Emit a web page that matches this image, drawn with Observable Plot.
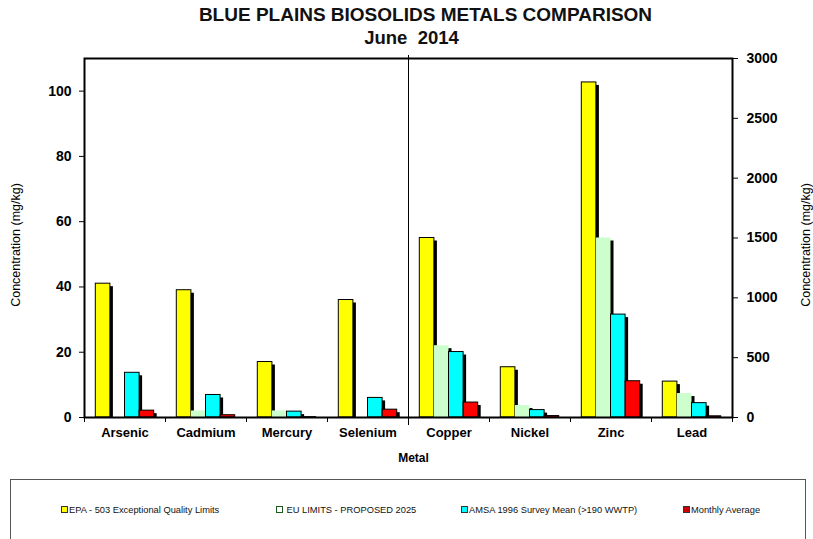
<!DOCTYPE html>
<html>
<head>
<meta charset="utf-8">
<script src="https://cdn.jsdelivr.net/npm/d3@7"></script>
<script src="https://cdn.jsdelivr.net/npm/@observablehq/plot@0.6"></script>
<style>
  body { margin: 0; background: #fff; font-family: "Liberation Sans", Arial, sans-serif; }
  #wrap { position: relative; width: 813px; height: 539px; overflow: hidden; background: #fff; }
  #chart { position: absolute; left: 0; top: 0; }
  .title { position: absolute; left: 0; width: 813px; font-weight: bold; white-space: pre; text-align: center; color: #111; }
  #legend { position: absolute; left: 10px; top: 479px; width: 796px; height: 80px; border: 1px solid #555; box-sizing: border-box; }
  .item { position: absolute; top: 25px; font-size: 9.3px; color: #111; white-space: nowrap; line-height: 10px; }
  .sw { display: inline-block; width: 5px; height: 5px; border: 1px solid #333; margin-right: 1px; vertical-align: 0px; }
</style>
</head>
<body>
<div id="wrap">
  <div class="title" style="top:4px;left:19px;font-size:19px;">BLUE PLAINS BIOSOLIDS METALS COMPARISON</div>
  <div class="title" style="top:27px;left:5px;font-size:18.5px;">June  2014</div>
  <div id="chart"></div>
  <div id="legend"></div>
</div>
<script>
// Metals, split between the left (0-110 mg/kg) and right (0-3000 mg/kg) axes
const metals = ["Arsenic", "Cadmium", "Mercury", "Selenium", "Copper", "Nickel", "Zinc", "Lead"];
const axisSide = ["left", "left", "left", "left", "right", "right", "right", "right"];

// Concentrations in mg/kg
const epaLimits = [41, 39, 17, 36, 1500, 420, 2800, 300];
const euLimits2025 = [0, 2, 2, 0, 600, 100, 1500, 200];
const amsaMean = [13.7, 6.9, 1.8, 6.0, 547, 62, 860, 120];
const monthlyAverage = [2.1, 0.7, 0.1, 2.4, 125, 12, 303, 10];

const seriesNames = [
  "EPA - 503 Exceptional Quality Limits",
  "EU LIMITS - PROPOSED 2025",
  "AMSA 1996 Survey Mean (>190 WWTP)",
  "Monthly Average"
];
const seriesValues = [epaLimits, euLimits2025, amsaMean, monthlyAverage];
const seriesFill = ["#FFFF00", "#CCFFCC", "#00FFFF", "#FF0000"];
const seriesStroke = ["#000", "none", "#000", "#000"];
const legendFill = ["#FFFF00", "#FFFFFF", "#00FFFF", "#CC0000"];
const legendBorder = ["#333", "#1d5a1d", "#333", "#333"];
const legendLeft = [50, 265, 450, 672];

const leftTicks = [0, 20, 40, 60, 80, 100];
const rightTicks = [0, 500, 1000, 1500, 2000, 2500, 3000];
const leftMax = 110, rightMax = 3000;
const axisTitle = "Concentration (mg/kg)";
const xTitle = "Metal";

// Right-axis metals share the frame, so their values are rescaled onto the left domain
const toLeft = (v, side) => side === "right" ? v * leftMax / rightMax : v;

const W = 813, H = 470;
const mL = 84, mR = 81, mT = 58, mB = 53;
const band = (W - mL - mR) / metals.length;
const groupPad = 11.3, barW = 14.6;

const marks = [];
seriesValues.forEach((vals, i) => {
  const rows = metals.map((m, j) => ({metal: m, side: axisSide[j], value: vals[j]}));
  const inset = {
    insetLeft: groupPad + i * barW,
    insetRight: band - groupPad - (i + 1) * barW
  };
  // drop shadow
  marks.push(Plot.barY(rows.filter(d => d.value > 0), {
    x: "metal", y: d => toLeft(d.value, d.side), fill: "#000",
    dx: 3, insetTop: 3, ...inset
  }));
  marks.push(Plot.barY(rows.filter(d => d.value > 0), {
    x: "metal", y: d => toLeft(d.value, d.side), fill: seriesFill[i],
    stroke: seriesStroke[i], strokeWidth: 1, ...inset
  }));
});

const chart = Plot.plot({
  width: W, height: H,
  marginLeft: mL, marginRight: mR, marginTop: mT, marginBottom: mB,
  style: {fontFamily: "'Liberation Sans', Arial, sans-serif", color: "#000", background: "transparent"},
  x: {domain: metals, padding: 0, axis: null},
  y: {domain: [0, leftMax], axis: null},
  marks: [
    ...marks,
    Plot.frame({stroke: "#000", strokeWidth: 2}),
    // divider between left-axis and right-axis metals
    Plot.ruleX([metals[4]], {x: d => d, dx: -band / 2, y1: () => leftMax, y2: () => 0, insetTop: -3, insetBottom: -8, stroke: "#000", strokeWidth: 1}),
    // category boundary ticks
    Plot.ruleX(metals, {x: d => d, dx: -band / 2, y1: () => 0, y2: () => 0, insetBottom: -5, stroke: "#000", strokeWidth: 1}),
    Plot.ruleX([metals[metals.length - 1]], {x: d => d, dx: band / 2, y1: () => 0, y2: () => 0, insetBottom: -5, stroke: "#000", strokeWidth: 1}),
    Plot.axisX({tickSize: 0, tickPadding: 10, fontSize: 13, fontWeight: "bold", label: null}),
    Plot.axisY(leftTicks, {anchor: "left", tickSize: 5, tickPadding: 8, fontSize: 14, fontWeight: "bold", label: null}),
    Plot.axisY(rightTicks.map(v => v * leftMax / rightMax), {
      anchor: "right", tickSize: 5, tickPadding: 9, fontSize: 14, fontWeight: "bold", label: null,
      tickFormat: d => String(Math.round(d * rightMax / leftMax))
    }),
    Plot.text([axisTitle], {frameAnchor: "left", text: d => d, textAnchor: "middle", rotate: -90, dx: -69, dy: 7, fontSize: 12.5}),
    Plot.text([axisTitle], {frameAnchor: "right", text: d => d, textAnchor: "middle", rotate: -90, dx: 73, dy: 7, fontSize: 12.5}),
    Plot.text([xTitle], {frameAnchor: "bottom", text: d => d, dx: 5, dy: 44, fontSize: 12, fontWeight: "bold"})
  ]
});
document.getElementById("chart").appendChild(chart);

// Legend
const legend = document.getElementById("legend");
seriesNames.forEach((name, i) => {
  const it = document.createElement("div");
  it.className = "item";
  it.style.left = legendLeft[i] + "px";
  const sw = document.createElement("span");
  sw.className = "sw";
  sw.style.background = legendFill[i];
  sw.style.borderColor = legendBorder[i];
  it.appendChild(sw);
  it.appendChild(document.createTextNode((i === 1 ? " " : "") + name));
  legend.appendChild(it);
});
</script>
</body>
</html>
